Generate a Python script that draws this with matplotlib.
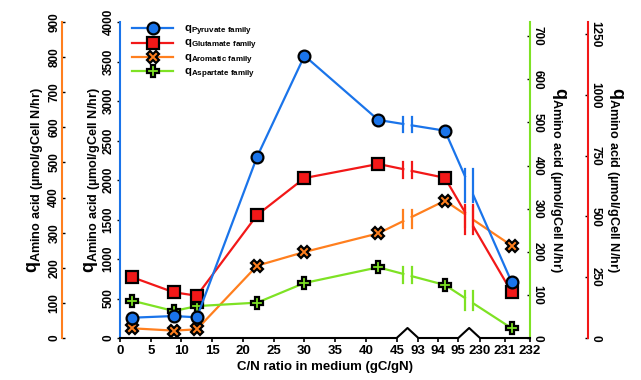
import numpy as np
import matplotlib
matplotlib.use("Agg")
import matplotlib.pyplot as plt
from matplotlib.lines import Line2D

plt.rcParams['font.family'] = ['Liberation Sans', 'DejaVu Sans']
plt.rcParams['font.weight'] = 'bold'
plt.rcParams['axes.labelweight'] = 'bold'
plt.rcParams['mathtext.fontset'] = 'custom'
plt.rcParams['mathtext.rm'] = 'Liberation Sans:bold'
plt.rcParams['mathtext.bf'] = 'Liberation Sans:bold'
plt.rcParams['mathtext.it'] = 'Liberation Sans:bold'

# data
cn_ratio = [2, 8.75, 12.5, 22.3, 30, 42, 94.33, 231.27]
pyruvate = [257, 278, 262, 2295, 3573, 2760, 2624, 705]
glutamate = [250, 188, 174, 506, 658, 716, 659, 188]
aromatic = [27.6, 21, 24.7, 206, 245, 298, 391, 263]
aspartate = [86.5, 62.6, 74, 82, 127.6, 164, 123, 22.5]

xticks = [0, 5, 10, 15, 20, 25, 30, 35, 40, 45, 93, 94, 95, 230, 231, 232]

# broken x axis: data breakpoints -> pixel offsets along the axis
X_BRK = [0, 45, 93, 95, 230, 232]
U_BRK = [0, 276.7, 298.3, 338.3, 360, 410]
GAP_U = [(U_BRK[1] + U_BRK[2]) / 2, (U_BRK[3] + U_BRK[4]) / 2]
HALF_GAP = 4.2
AX_H = 316.0

BLUE = '#1a74ea'
RED = '#f21818'
ORANGE = '#ff7f1e'
GREEN = '#7ee224'


def fwd(x):
    return np.interp(x, X_BRK, U_BRK)


def inv(u):
    return np.interp(u, U_BRK, X_BRK)


def draw_series(axis, y, color, ymax, marker, ms):
    x = np.array(cn_ratio, float)
    yv = np.array(y, float)
    u = fwd(x)
    ppu = AX_H / ymax
    px, py = [x[0]], [yv[0]]
    for i in range(1, len(x)):
        for c in GAP_U:
            if u[i - 1] < c < u[i]:
                ul, ur = c - HALF_GAP, c + HALF_GAP
                seg_u, seg_y = [u[i - 1], u[i]], [yv[i - 1], yv[i]]
                yl = np.interp(ul, seg_u, seg_y)
                yr = np.interp(ur, seg_u, seg_y)
                yc = np.interp(c, seg_u, seg_y)
                px.append(inv(ul)); py.append(yl)
                axis.plot(px, py, color=color, lw=1.6, zorder=2)
                px, py = [inv(ur)], [yr]
                slope = abs(yv[i] - yv[i - 1]) * ppu / (u[i] - u[i - 1])
                h = (7 + slope * HALF_GAP) / ppu
                for xb in (inv(ul), inv(ur)):
                    axis.plot([xb, xb], [yc - h, yc + h], color=color, lw=1.6, zorder=2)
        px.append(x[i]); py.append(yv[i])
    axis.plot(px, py, color=color, lw=1.6, zorder=2)
    axis.plot(x, yv, ls='none', marker=marker, ms=ms, mfc=color, mec='black',
              mew=1.6, zorder=3, clip_on=False)


fig = plt.figure(figsize=(6.41, 3.80), dpi=100)
ax = fig.add_axes([120 / 641, 42 / 380, 410 / 641, 316 / 380])
ax_o = ax.twinx()
ax_g = ax.twinx()
ax_r = ax.twinx()
ax.set_zorder(5)
ax.patch.set_visible(False)

ax.set_xscale('function', functions=(fwd, inv))
ax.set_xlim(0, 232)
ax.set_ylim(0, 4000)
ax_o.set_ylim(0, 900)
ax_g.set_ylim(0, 733)
ax_r.set_ylim(0, 1300)

ylab = r'$\mathrm{q_{Amino\ acid\ (µmol/gCell\ N/hr)}}$'
YLAB_SIZE = 13

# main (blue) axis
for s in ['top', 'right', 'bottom']:
    ax.spines[s].set_visible(False)
ax.spines['left'].set_color(BLUE)
ax.spines['left'].set_linewidth(1.5)
ax.set_yticks(np.arange(0, 4001, 500))
ax.tick_params(axis='y', direction='out', length=2.5, width=1, labelsize=8.5,
               labelrotation=90, pad=1.5)
ax.set_ylabel(ylab, fontsize=YLAB_SIZE)
ax.yaxis.set_label_coords((93 - 120) / 410, 0.5)

ax.set_xticks(xticks)
ax.set_xticklabels([str(t) for t in xticks])
ax.minorticks_off()
ax.tick_params(axis='x', direction='out', length=3, width=1.2, labelsize=9.5, pad=2)
ax.set_xlabel('C/N ratio in medium (gC/gN)', fontsize=9.5, labelpad=3)

# zigzag x axis line
zx = [0, 45, inv(GAP_U[0]), 93, 95, inv(GAP_U[1]), 230, 232]
zy = [0, 0, 10 / AX_H, 0, 0, 10 / AX_H, 0, 0]
ax.plot(zx, zy, color='black', lw=1.5, transform=ax.get_xaxis_transform(),
        clip_on=False, zorder=6)

# orange axis on the far left
for s in ['top', 'right', 'bottom']:
    ax_o.spines[s].set_visible(False)
ax_o.spines['left'].set_visible(True)
ax_o.spines['left'].set_position(('axes', -58 / 410))
ax_o.spines['left'].set_color(ORANGE)
ax_o.spines['left'].set_linewidth(1.5)
ax_o.yaxis.set_ticks_position('left')
ax_o.yaxis.set_label_position('left')
ax_o.set_yticks(np.arange(0, 901, 100))
ax_o.tick_params(axis='y', direction='in', length=2.5, width=1, labelsize=8.5,
                 labelrotation=90, pad=1.2)
ax_o.set_ylabel(ylab, fontsize=YLAB_SIZE)
ax_o.yaxis.set_label_coords((36 - 120) / 410, 0.5)

# green axis on the right
for s in ['top', 'left', 'bottom']:
    ax_g.spines[s].set_visible(False)
ax_g.spines['right'].set_color(GREEN)
ax_g.spines['right'].set_linewidth(1.5)
ax_g.set_yticks(np.arange(0, 701, 100))
ax_g.tick_params(axis='y', direction='in', length=2.5, width=1, labelsize=8.5,
                 labelrotation=-90, pad=1.2)
ax_g.set_ylabel(ylab, fontsize=YLAB_SIZE, rotation=-90)
ax_g.yaxis.set_label_coords((557 - 120) / 410, 0.5)

# red axis on the far right
for s in ['top', 'left', 'bottom']:
    ax_r.spines[s].set_visible(False)
ax_r.spines['right'].set_position(('axes', 468 / 410))
ax_r.spines['right'].set_color(RED)
ax_r.spines['right'].set_linewidth(1.5)
ax_r.set_yticks(np.arange(0, 1251, 250))
ax_r.tick_params(axis='y', direction='in', length=2.5, width=1, labelsize=8.5,
                 labelrotation=-90, pad=1.2)
ax_r.set_ylabel(ylab, fontsize=YLAB_SIZE, rotation=-90)
ax_r.yaxis.set_label_coords((614 - 120) / 410, 0.5)

for a in (ax, ax_o, ax_g, ax_r):
    a.yaxis.label.set_verticalalignment('center')
    a.yaxis.label.set_horizontalalignment('center')
    for lab in a.get_yticklabels():
        lab.set_verticalalignment('center')

draw_series(ax_g, aspartate, GREEN, 733, 'P', 9)
draw_series(ax_o, aromatic, ORANGE, 900, 'X', 9)
draw_series(ax_r, glutamate, RED, 1300, 's', 8)
draw_series(ax, pyruvate, BLUE, 4000, 'o', 8.5)

handles = [
    Line2D([], [], color=BLUE, lw=1.6, marker='o', ms=8.5, mfc=BLUE, mec='black', mew=1.6),
    Line2D([], [], color=RED, lw=1.6, marker='s', ms=8, mfc=RED, mec='black', mew=1.6),
    Line2D([], [], color=ORANGE, lw=1.6, marker='X', ms=9, mfc=ORANGE, mec='black', mew=1.6),
    Line2D([], [], color=GREEN, lw=1.6, marker='P', ms=9, mfc=GREEN, mec='black', mew=1.6),
]
labels = [r'$\mathrm{q_{Pyruvate\ family}}$', r'$\mathrm{q_{Glutamate\ family}}$',
          r'$\mathrm{q_{Aromatic\ family}}$', r'$\mathrm{q_{Aspartate\ family}}$']
ax.legend(handles, labels, loc='upper left', bbox_to_anchor=(0.01, 1.02), frameon=False,
          fontsize=8.2, handlelength=3.6, handletextpad=1.0, labelspacing=0.0,
          borderaxespad=0.3)

fig.savefig('out.png', dpi=100)
